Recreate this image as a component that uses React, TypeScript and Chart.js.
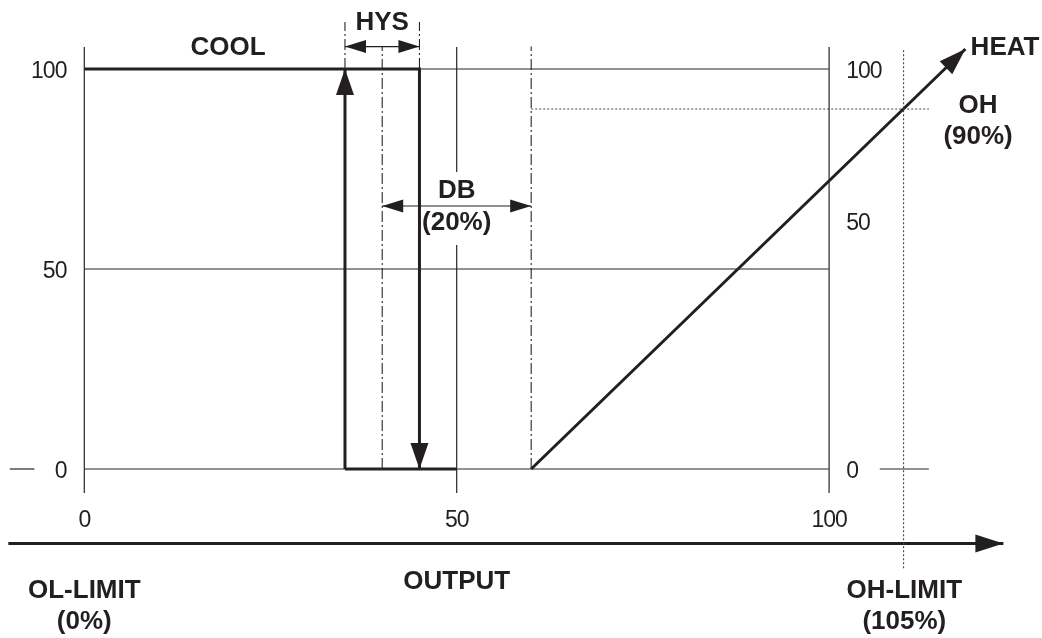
import React, { useEffect, useRef } from 'react';
import { Chart, registerables } from 'chart.js';

Chart.register(...registerables);

type P = [number, number];

// ---- axis ranges (data units) ----
const X_MIN = -11;
const X_MAX = 128;
const Y_MIN = -40;
const Y_MAX = 115.75;

// ---- tick labels ----
const xTickValues = [0, 50, 100];
const xTickLabels = ['0', '50', '100'];
const leftTickValues = [0, 50, 100];
const leftTickLabels = ['0', '50', '100'];
const rightTickValues = [0, 62, 100];
const rightTickLabels = ['0', '50', '100'];

// ---- control points (percent) ----
const hysOn = 35;
const hysOff = 45;
const hysMid = 40;
const dbEnd = 60;
const ohLevel = 90;
const ohLimitX = 110;

// ---- series ----
const coolPath: P[] = [[0, 100], [hysOff, 100], [hysOff, 0]];
const coolReturn: P[] = [[hysOn, 0], [hysOn, 100]];
const coolFloor: P[] = [[hysOn, 0], [50, 0]];
const heatPath: P[] = [[dbEnd, 0], [118.3, 105]];
const outputAxis: P[] = [[-10.2, -18.6], [123.4, -18.6]];

// ---- reference (grid) lines ----
const gridLines: P[][] = [
  [[0, 100], [100, 100]],
  [[0, 50], [100, 50]],
  [[0, 0], [100, 0]],
  [[-10, 0], [-6.7, 0]],
  [[106.8, 0], [113.4, 0]],
  [[0, -6], [0, 105.5]],
  [[50, 74.25], [50, 105.5]],
  [[50, -6], [50, 56]],
  [[100, -6], [100, 105.5]],
];

const dashDotLines: P[][] = [
  [[hysOn, 100], [hysOn, 111.75]],
  [[hysOff, 100], [hysOff, 111.75]],
  [[hysMid, 0], [hysMid, 105.6]],
  [[dbEnd, 0], [dbEnd, 105.6]],
];

const dottedLines: P[][] = [
  [[dbEnd, ohLevel], [113.4, ohLevel]],
  [[ohLimitX, -24.8], [ohLimitX, 105]],
];

// dimension lines (double arrows)
const hysDim: P[] = [[hysOn, 105.6], [hysOff, 105.6]];
const dbDim: P[] = [[hysMid, 65.75], [dbEnd, 65.75]];

// ---- arrowheads: tip, direction-from, length px, width px ----
type Arrow = { tip: P; from: P; len: number; w: number };
const arrows: Arrow[] = [
  { tip: coolReturn[1], from: coolReturn[0], len: 26, w: 18 },
  { tip: coolPath[2], from: coolPath[1], len: 26, w: 18 },
  { tip: heatPath[1], from: heatPath[0], len: 27, w: 18 },
  { tip: outputAxis[1], from: outputAxis[0], len: 28, w: 18 },
  { tip: hysDim[0], from: hysDim[1], len: 21, w: 13 },
  { tip: hysDim[1], from: hysDim[0], len: 21, w: 13 },
  { tip: dbDim[0], from: dbDim[1], len: 21, w: 13 },
  { tip: dbDim[1], from: dbDim[0], len: 21, w: 13 },
];

// ---- text labels (baseline position in data units) ----
type Label = { text: string; x: number; y: number; align: CanvasTextAlign };
const labels: Label[] = [
  { text: 'COOL', x: 19.3, y: 103.5, align: 'center' },
  { text: 'HYS', x: 40, y: 109.75, align: 'center' },
  { text: 'DB', x: 50, y: 67.7, align: 'center' },
  { text: '(20%)', x: 50, y: 59.75, align: 'center' },
  { text: 'OH', x: 120, y: 88.9, align: 'center' },
  { text: '(90%)', x: 120, y: 81.25, align: 'center' },
  { text: 'HEAT', x: 119, y: 103.5, align: 'left' },
  { text: 'OL-LIMIT', x: 0, y: -32.3, align: 'center' },
  { text: '(0%)', x: 0, y: -40.1, align: 'center' },
  { text: 'OUTPUT', x: 50, y: -30.1, align: 'center' },
  { text: 'OH-LIMIT', x: 110.1, y: -32.3, align: 'center' },
  { text: '(105%)', x: 110.1, y: -40.1, align: 'center' },
];

const INK = '#231f20';
const GRID = '#262626';
const FONT = '"Liberation Sans", Arial, Helvetica, sans-serif';

const toPts = (a: P[]) => a.map(([x, y]) => ({ x, y }));

function seg(data: P[], width: number, color: string, dash: number[] = []) {
  return {
    data: toPts(data),
    showLine: true,
    borderColor: color,
    borderWidth: width,
    borderDash: dash,
    pointRadius: 0,
    pointHoverRadius: 0,
    fill: false,
    clip: false as any,
    borderCapStyle: 'butt' as const,
    borderJoinStyle: 'miter' as const,
  };
}

const overlayPlugin = {
  id: 'overlay',
  afterDatasetsDraw(chart: any) {
    const ctx: CanvasRenderingContext2D = chart.ctx;
    const xs = chart.scales.x;
    const ys = chart.scales.y;
    const px = (v: number) => xs.getPixelForValue(v);
    const py = (v: number) => ys.getPixelForValue(v);
    ctx.save();
    // arrowheads
    ctx.fillStyle = INK;
    for (const a of arrows) {
      const tx = px(a.tip[0]);
      const ty = py(a.tip[1]);
      const fx = px(a.from[0]);
      const fy = py(a.from[1]);
      const L = Math.hypot(tx - fx, ty - fy);
      const dx = (tx - fx) / L;
      const dy = (ty - fy) / L;
      const bx = tx - dx * a.len;
      const by = ty - dy * a.len;
      const nx = -dy;
      const ny = dx;
      ctx.beginPath();
      ctx.moveTo(tx, ty);
      ctx.lineTo(bx + (nx * a.w) / 2, by + (ny * a.w) / 2);
      ctx.lineTo(bx - (nx * a.w) / 2, by - (ny * a.w) / 2);
      ctx.closePath();
      ctx.fill();
    }
    // tick labels
    ctx.fillStyle = INK;
    ctx.font = `23px ${FONT}`;
    (ctx as any).letterSpacing = '-1px';
    ctx.textBaseline = 'alphabetic';
    ctx.textAlign = 'right';
    leftTickValues.forEach((v, i) => {
      ctx.fillText(leftTickLabels[i], px(-2.4), py(v) + 9);
    });
    ctx.textAlign = 'left';
    rightTickValues.forEach((v, i) => {
      ctx.fillText(rightTickLabels[i], px(102.3), py(v) + 9);
    });
    ctx.textAlign = 'center';
    xTickValues.forEach((v, i) => {
      ctx.fillText(xTickLabels[i], px(v), py(-14.5));
    });
    // annotation labels
    (ctx as any).letterSpacing = '0px';
    ctx.font = `bold 26px ${FONT}`;
    for (const l of labels) {
      ctx.textAlign = l.align;
      ctx.fillText(l.text, px(l.x), py(l.y));
    }
    ctx.restore();
  },
};

export default function App() {
  const ref = useRef<HTMLCanvasElement | null>(null);
  useEffect(() => {
    if (!ref.current) return;
    Chart.defaults.font.family = FONT;
    const datasets: any[] = [
      ...gridLines.map((g) => seg(g, 1.2, GRID)),
      ...dashDotLines.map((g) => seg(g, 1.1, GRID, [11, 3, 2, 3])),
      ...dottedLines.map((g) => seg(g, 1.1, '#444444', [2, 2])),
      seg(hysDim, 1.2, INK),
      seg(dbDim, 1.2, INK),
      seg(coolPath, 3, INK),
      seg(coolReturn, 3, INK),
      seg(coolFloor, 3, INK),
      seg(heatPath, 3, INK),
      seg(outputAxis, 3, INK),
    ];
    const chart = new Chart(ref.current, {
      type: 'scatter',
      data: { datasets },
      options: {
        animation: false,
        responsive: false,
        maintainAspectRatio: false,
        events: [],
        layout: { padding: { left: 2.37, right: 4.36, top: 6, bottom: 9 } },
        plugins: { legend: { display: false }, tooltip: { enabled: false } },
        scales: {
          x: { type: 'linear', min: X_MIN, max: X_MAX, display: false },
          y: { type: 'linear', min: Y_MIN, max: Y_MAX, display: false },
        },
      },
      plugins: [overlayPlugin],
    });
    return () => chart.destroy();
  }, []);
  return (
    <div style={{ position: 'fixed', left: 0, top: 0, width: 1042, height: 638, background: '#fff' }}>
      <canvas ref={ref} width={1042} height={638} style={{ display: 'block' }} />
    </div>
  );
}
